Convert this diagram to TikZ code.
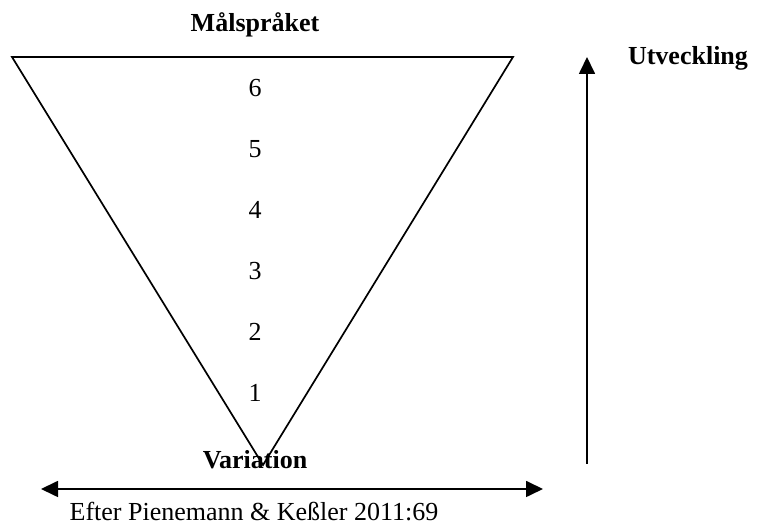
\documentclass[tikz,border=0pt]{standalone}
\usepackage{fontspec}
\setmainfont{Liberation Serif}
\usetikzlibrary{arrows.meta}
\tikzstyle{level} = [font=\fontsize{26}{30}\selectfont, inner sep=0pt]
\tikzstyle{heading} = [font=\fontsize{26}{30}\selectfont\bfseries, inner sep=0pt]
\tikzstyle{arrow} = [line width=1.7pt, -{Triangle[length=17pt,width=16pt]}]
\tikzstyle{twoway} = [line width=1.7pt, {Triangle[length=17pt,width=16pt]}-{Triangle[length=17pt,width=16pt]}]

\begin{document}
\begin{tikzpicture}[x=1pt, y=1pt, node distance=61pt]
	\useasboundingbox (0,0) rectangle (758,526);

	\coordinate (tl) at (12,469);
	\coordinate (tr) at (513,469);
	\coordinate (apex) at (263,61);
	\draw[line width=1.7pt] (tl) -- (tr) -- (apex) -- cycle;

	\node (target) [heading] at (255,501) {Målspråket};

	\node (s6) [level] at (255,438) {6};
	\node (s5) [level, below of=s6] {5};
	\node (s4) [level, below of=s5] {4};
	\node (s3) [level, below of=s4] {3};
	\node (s2) [level, below of=s3] {2};
	\node (s1) [level, below of=s2] {1};

	\node (var) [heading] at (255,66) {Variation};
	\node (dev) [heading] at (688,468) {Utveckling};

	%
	\coordinate (devlow) at (587,62);
	\coordinate (devhigh) at (587,469);
	\draw[arrow] (devlow) -- (devhigh);

	\coordinate (varleft) at (41,37);
	\coordinate (varright) at (543,37);
	\draw[twoway] (varleft) -- (varright);

	\node (source) [level] at (254,14) {Efter Pienemann \& Keßler 2011:69};

\end{tikzpicture}
\end{document}
